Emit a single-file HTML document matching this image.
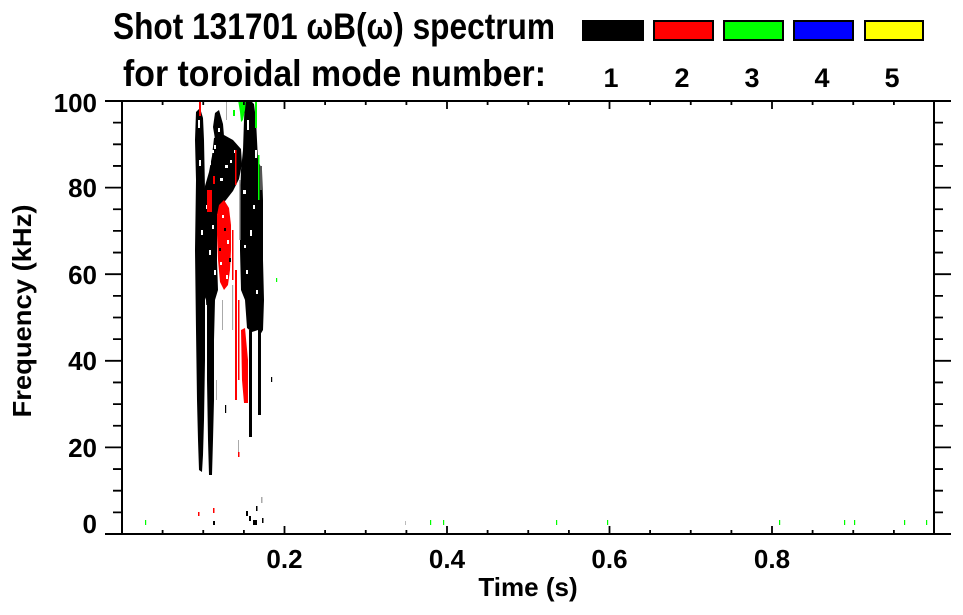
<!DOCTYPE html>
<html>
<head>
<meta charset="utf-8">
<style>
html,body{margin:0;padding:0;background:#fff;}
body{width:963px;height:615px;overflow:hidden;}
svg{display:block;}
text{font-family:"Liberation Sans",Arial,sans-serif;font-weight:bold;fill:#000;}
</style>
</head>
<body>
<svg width="963" height="615" viewBox="0 0 963 615" xmlns="http://www.w3.org/2000/svg">
<rect x="0" y="0" width="963" height="615" fill="#fff"/>

<!-- Title -->
<text x="113" y="39" font-size="37" textLength="442" lengthAdjust="spacingAndGlyphs">Shot 131701 ωB(ω) spectrum</text>
<text x="123" y="86" font-size="37" textLength="423" lengthAdjust="spacingAndGlyphs">for toroidal mode number:</text>

<!-- Legend boxes -->
<rect x="582" y="20" width="62" height="21" fill="#000"/>
<rect x="654" y="21" width="59" height="19" fill="#ff0000" stroke="#000" stroke-width="2"/>
<rect x="724" y="21" width="59" height="19" fill="#00ff00" stroke="#000" stroke-width="2"/>
<rect x="794" y="21" width="59" height="19" fill="#0000ff" stroke="#000" stroke-width="2"/>
<rect x="865" y="21" width="58" height="19" fill="#ffff00" stroke="#000" stroke-width="2"/>
<g font-size="27" text-anchor="middle">
<text x="611" y="87">1</text>
<text x="682" y="87">2</text>
<text x="752" y="87">3</text>
<text x="822" y="87">4</text>
<text x="892" y="87">5</text>
</g>

<!-- DATA -->
<g>
<!-- black: left strip -->
<polygon fill="#000" points="196,112 200,108 203,118 204,140 205,190 206,260 205,300 205,360 204,420 203,455 202,472 199,470 198,440 197,400 196,330 195,250 196,180 195,140"/>
<!-- black: middle mass (diagonal band) -->
<polygon fill="#000" points="214,138 224,135 233,140 241,149 242,164 239,179 233,191 226,200 220,207 217,215 217,260 218,290 215,300 214,340 214,400 213,440 212,475 209,475 208,440 207,380 207,320 206,300 203,292 203,250 203,200 205,186 209,172 212,156"/>
<polygon fill="#000" points="215,113 219,110 223,124 224,136 215,139 213,127"/>
<!-- black: right column -->
<polygon fill="#000" points="245,100 250,100 254,104 256,120 257,140 258,160 262,170 263,200 263,260 264,300 263,330 260,335 258,330 252,332 247,328 245,300 241,290 240,250 240,200 241,170 243,150 244,120"/>
<rect x="249" y="330" width="3" height="107" fill="#000"/>
<rect x="258" y="330" width="3" height="85" fill="#000"/>
<rect x="260" y="166" width="2" height="24" fill="#555"/>
<!-- white speckles -->
<g fill="#fff">
<rect x="199" y="160" width="2" height="6"/>
<rect x="201" y="230" width="2" height="5"/>
<rect x="243" y="190" width="3" height="4"/>
<rect x="250" y="230" width="2" height="6"/>
<rect x="246" y="270" width="2" height="4"/>
<rect x="211" y="150" width="3" height="3"/>
<rect x="225" y="165" width="3" height="3"/>
<rect x="209" y="250" width="2" height="5"/>
<rect x="255" y="150" width="2" height="8"/>
<rect x="205" y="305" width="2" height="140"/>
<rect x="198" y="120" width="2" height="8"/>
<rect x="247" y="120" width="2" height="10"/>
<rect x="218" y="128" width="2" height="4"/>
<rect x="230" y="160" width="2" height="3"/>
<rect x="212" y="225" width="2" height="4"/>
<rect x="253" y="205" width="2" height="4"/>
<rect x="208" y="160" width="3" height="5"/>
<rect x="214" y="145" width="2" height="4"/>
<rect x="220" y="178" width="3" height="3"/>
<rect x="234" y="150" width="2" height="3"/>
<rect x="206" y="205" width="2" height="4"/>
<rect x="214" y="270" width="2" height="5"/>
<rect x="244" y="245" width="2" height="3"/>
<rect x="256" y="290" width="2" height="4"/>
</g>
<!-- gray streaks -->
<g fill="#aaa">
<rect x="232" y="285" width="1.2" height="45"/>
<rect x="239" y="180" width="1.5" height="60"/>
<rect x="222" y="300" width="1" height="30"/>
<rect x="216" y="380" width="1" height="20"/>
<rect x="226" y="100" width="1" height="20"/>
<rect x="261" y="497" width="1.5" height="6"/>
<rect x="238" y="440" width="1" height="15"/>
</g>
<!-- red -->
<g fill="#ff0000">
<polygon points="219,205 224,200 229,208 231,225 231,250 230,270 228,285 224,290 220,282 218,260 217,235 217,215"/>
<rect x="207" y="190" width="5" height="22"/>
<rect x="235" y="270" width="2" height="130"/>
<rect x="238" y="300" width="1.5" height="80"/>
<polygon points="241,330 245,328 248,360 248,403 244,403 242,380"/>
<rect x="232" y="230" width="1.5" height="50"/>
<rect x="199" y="100" width="2" height="16"/>
<rect x="235" y="150" width="1.5" height="35"/>
<rect x="213" y="176" width="2" height="8"/>
<rect x="238" y="452" width="1.5" height="5"/>
<rect x="198" y="512" width="1.5" height="4"/>
<rect x="213" y="508" width="1.5" height="5"/>
</g>
<!-- speckles over red patch -->
<g fill="#fff">
<rect x="222" y="215" width="2" height="3"/>
<rect x="227" y="240" width="2" height="4"/>
<rect x="220" y="262" width="2" height="3"/>
<rect x="226" y="275" width="2" height="4"/>
</g>
<g fill="#000">
<rect x="224" y="228" width="2" height="3"/>
<rect x="229" y="258" width="2" height="4"/>
<rect x="219" y="248" width="2" height="3"/>
</g>
<!-- green -->
<g fill="#00ff00">
<polygon points="238,100 246,100 245,110 243,120 241,122 240,112"/>
<rect x="255" y="100" width="2" height="28"/>
<rect x="233" y="110" width="2" height="6"/>
<rect x="258" y="155" width="1.5" height="45"/>
<rect x="276" y="278" width="1.2" height="4"/>
<rect x="145" y="520" width="1.2" height="5"/>
<rect x="430" y="520" width="1.2" height="5"/>
<rect x="443" y="520" width="1.2" height="5"/>
<rect x="556" y="520" width="1.2" height="5"/>
<rect x="607" y="520" width="1.2" height="5"/>
<rect x="779" y="520" width="1.2" height="5"/>
<rect x="844" y="520" width="1.2" height="5"/>
<rect x="854" y="520" width="1.2" height="5"/>
<rect x="904" y="520" width="1.2" height="5"/>
<rect x="926" y="520" width="1.2" height="5"/>
</g>
<rect x="405" y="521" width="1" height="4" fill="#bbb"/>
<!-- bottom black specks -->
<g fill="#000">
<rect x="253" y="520" width="4" height="5"/>
<rect x="213" y="521" width="2" height="4"/>
<rect x="256" y="506" width="1.5" height="5"/>
<rect x="246" y="511" width="2" height="5"/>
<rect x="249" y="516" width="2" height="5"/>
<rect x="262" y="518" width="1.5" height="5"/>
<rect x="271" y="377" width="1.2" height="5"/>
<rect x="225" y="405" width="1.2" height="8"/>
</g>
</g>

<!-- Axes frame -->
<g stroke="#000" stroke-width="2" fill="none">
<line x1="105" y1="101" x2="951" y2="101"/>
<line x1="105" y1="534" x2="951" y2="534"/>
<line x1="122" y1="100" x2="122" y2="535"/>
<line x1="934" y1="100" x2="934" y2="535"/>
</g>

<!-- Y ticks -->
<g stroke="#000" stroke-width="1.8">
<path d="M113 512.35H122M113 490.7H122M113 469.05H122M105 447.4H122M113 425.75H122M113 404.1H122M113 382.45H122M105 360.8H122M113 339.15H122M113 317.5H122M113 295.85H122M105 274.2H122M113 252.55H122M113 230.9H122M113 209.25H122M105 187.6H122M113 165.95H122M113 144.3H122M113 122.65H122"/>
<path d="M934 512.35H943M934 490.7H943M934 469.05H943M934 447.4H951M934 425.75H943M934 404.1H943M934 382.45H943M934 360.8H951M934 339.15H943M934 317.5H943M934 295.85H943M934 274.2H951M934 252.55H943M934 230.9H943M934 209.25H943M934 187.6H951M934 165.95H943M934 144.3H943M934 122.65H943"/>
</g>
<!-- X ticks -->
<g stroke="#000" stroke-width="1.8">
<path d="M162.6 534V530M203.25 534V530M243.9 534V530M284.5 534V526M325.1 534V530M365.75 534V530M406.4 534V530M447 534V526M487.6 534V530M528.25 534V530M568.9 534V530M609.5 534V526M650.1 534V530M690.75 534V530M731.4 534V530M772 534V526M812.6 534V530M853.25 534V530M893.9 534V530"/>
<path d="M162.6 101V105M203.25 101V105M243.9 101V105M284.5 101V109M325.1 101V105M365.75 101V105M406.4 101V105M447 101V109M487.6 101V105M528.25 101V105M568.9 101V105M609.5 101V109M650.1 101V105M690.75 101V105M731.4 101V105M772 101V109M812.6 101V105M853.25 101V105M893.9 101V105"/>
</g>

<!-- Y labels -->
<g font-size="26" text-anchor="end">
<text x="97" y="112">100</text>
<text x="97" y="197">80</text>
<text x="97" y="284">60</text>
<text x="97" y="370">40</text>
<text x="97" y="457">20</text>
<text x="97" y="533">0</text>
</g>
<!-- X labels -->
<g font-size="26" text-anchor="middle">
<text x="284.5" y="568">0.2</text>
<text x="447" y="568">0.4</text>
<text x="609.5" y="568">0.6</text>
<text x="772" y="568">0.8</text>
</g>

<!-- Axis titles -->
<text x="528" y="596" font-size="26" text-anchor="middle">Time (s)</text>
<text transform="translate(31,311) rotate(-90)" x="0" y="0" font-size="26" text-anchor="middle" textLength="213" lengthAdjust="spacingAndGlyphs">Frequency (kHz)</text>
</svg>
</body>
</html>
